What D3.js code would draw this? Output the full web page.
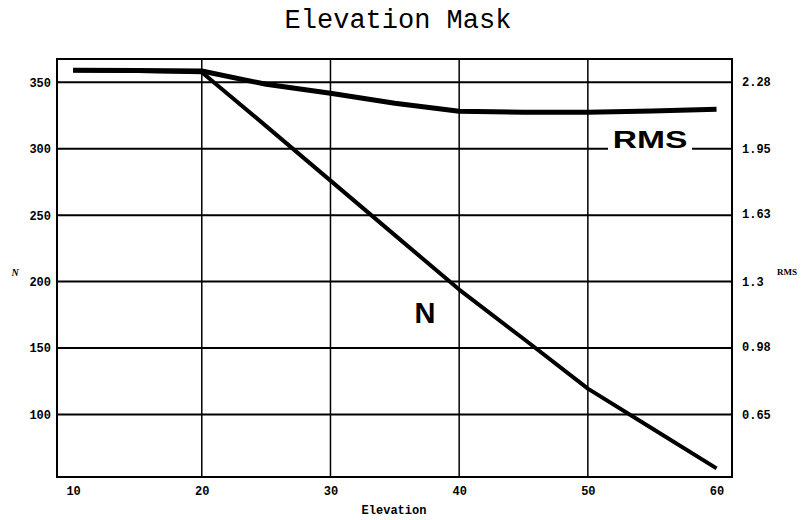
<!DOCTYPE html>
<html>
<head>
<meta charset="utf-8">
<script src="https://cdn.jsdelivr.net/npm/d3@7"></script>
<style>
  body { margin: 0; background: #fff; }
  svg { display: block; }
</style>
</head>
<body>
<svg width="801" height="520"></svg>
<script>
// data
var elevation = [10, 15, 20, 25, 30, 35, 40, 45, 50, 55, 60];
var nValues   = [359, 358.5, 357.5, 317, 276, 235, 194, 157, 119.5, 89.5, 59.5];
var rmsValues = [2.334, 2.333, 2.330, 2.265, 2.221, 2.172, 2.133, 2.128, 2.128, 2.135, 2.143];
var xTicks = [10, 20, 30, 40, 50, 60];
var nTicks = [100, 150, 200, 250, 300, 350];
var rmsTicks = [0.65, 0.98, 1.3, 1.63, 1.95, 2.28];

function main() {
    var svg = d3.select("svg");
    var left = 57, right = 732, top = 59, bottom = 477;

    var xScale = d3.scaleLinear().domain([8.75, 61.2]).range([left, right]);
    var yScale = d3.scaleLinear().domain([53, 367.5]).range([bottom, top]);
    // right axis is the same frame, rescaled
    var rScale = d3.scaleLinear().domain([0.3445, 2.38875]).range([bottom, top]);

    var mono = "'Liberation Mono', 'DejaVu Sans Mono', monospace";

    // title
    svg.append("text")
        .attr("x", 398).attr("y", 28)
        .attr("text-anchor", "middle")
        .style("font-family", mono)
        .style("font-size", "27px")
        .text("Elevation Mask");

    // grid
    svg.append("g").selectAll("line").data(nTicks).join("line")
        .attr("x1", left).attr("x2", right)
        .attr("y1", d => yScale(d)).attr("y2", d => yScale(d))
        .attr("stroke", "#000").attr("stroke-width", 2);
    svg.append("g").selectAll("line").data(xTicks.slice(1, -1)).join("line")
        .attr("x1", d => xScale(d)).attr("x2", d => xScale(d))
        .attr("y1", top).attr("y2", bottom)
        .attr("stroke", "#000").attr("stroke-width", 1.5);

    // axes (labels only, the grid does the rest)
    var gx = svg.append("g")
        .attr("transform", "translate(0," + bottom + ")")
        .call(d3.axisBottom(xScale).tickValues(xTicks).tickSize(0).tickPadding(9));
    var gl = svg.append("g")
        .attr("transform", "translate(" + left + ",0)")
        .call(d3.axisLeft(yScale).tickValues(nTicks).tickSize(0).tickPadding(6));
    var gr = svg.append("g")
        .attr("transform", "translate(" + right + ",0)")
        .call(d3.axisRight(rScale).tickValues(rmsTicks).tickFormat(d => String(d)).tickSize(0).tickPadding(10));
    [gx, gl, gr].forEach(function(g) {
        g.select(".domain").remove();
        g.selectAll("text")
            .style("font-family", mono)
            .style("font-size", "12px")
            .style("font-weight", "bold")
            .attr("fill", "#000");
    });

    // frame
    svg.append("rect")
        .attr("x", left).attr("y", top)
        .attr("width", right - left).attr("height", bottom - top)
        .attr("fill", "none").attr("stroke", "#000").attr("stroke-width", 2);

    // axis titles
    svg.append("text")
        .attr("x", 394).attr("y", 514)
        .attr("text-anchor", "middle")
        .style("font-family", mono).style("font-size", "12px").style("font-weight", "bold")
        .text("Elevation");
    svg.append("text")
        .attr("x", 15).attr("y", 276)
        .attr("text-anchor", "middle")
        .style("font-family", "'Liberation Serif', serif").style("font-size", "10px")
        .style("font-weight", "bold").style("font-style", "italic")
        .text("N");
    svg.append("text")
        .attr("x", 787).attr("y", 275)
        .attr("text-anchor", "middle")
        .style("font-family", "'Liberation Serif', serif").style("font-size", "9px")
        .style("font-weight", "bold")
        .text("RMS");

    // lines
    var nLine = d3.line()
        .x((d, i) => xScale(elevation[i]))
        .y(d => yScale(d));
    var rmsLine = d3.line()
        .x((d, i) => xScale(elevation[i]))
        .y(d => rScale(d));

    svg.append("path")
        .datum(nValues)
        .attr("fill", "none").attr("stroke", "#000")
        .attr("stroke-width", 4).attr("stroke-linejoin", "round")
        .attr("d", nLine);
    svg.append("path")
        .datum(rmsValues)
        .attr("fill", "none").attr("stroke", "#000")
        .attr("stroke-width", 5).attr("stroke-linejoin", "round")
        .attr("d", rmsLine);

    // in-plot series labels
    var rmsLab = svg.append("g").attr("transform", "translate(650,148)");
    rmsLab.append("rect")
        .attr("x", -42).attr("y", -20).attr("width", 84).attr("height", 24)
        .attr("fill", "#fff");
    rmsLab.append("text")
        .attr("text-anchor", "middle")
        .attr("transform", "scale(1.4,1)")
        .style("font-family", "'Liberation Sans', Arial, sans-serif")
        .style("font-size", "24px").style("font-weight", "bold")
        .text("RMS");

    svg.append("text")
        .attr("x", 425).attr("y", 323)
        .attr("text-anchor", "middle")
        .style("font-family", "'Liberation Sans', Arial, sans-serif")
        .style("font-size", "29px").style("font-weight", "bold")
        .text("N");
}
main();
</script>
</body>
</html>
